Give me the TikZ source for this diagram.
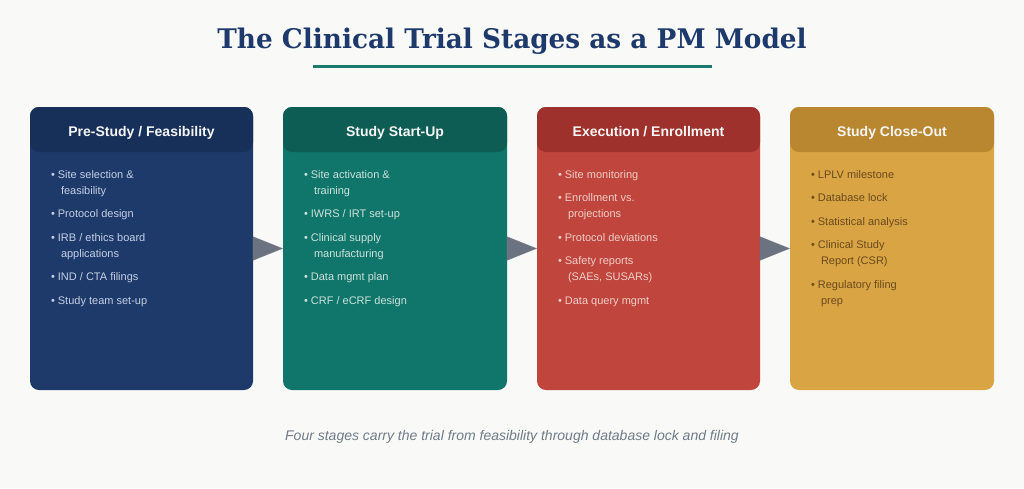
\documentclass[tikz,border=0pt]{standalone}
\usepackage{fontspec}
\setmainfont{Liberation Sans}
\newfontfamily\titlefont[FakeStretch=0.975]{DejaVu Serif}
\usetikzlibrary{arrows.meta,positioning,calc}
\definecolor{pagebg}{HTML}{F9F9F8}
\definecolor{titleblue}{HTML}{1E3A6C}
\definecolor{ruleteal}{HTML}{1A7A6E}
\definecolor{arrowgray}{HTML}{6B7280}
\definecolor{capgray}{HTML}{6E7C88}
\definecolor{navybody}{HTML}{1D3A6B}
\definecolor{navyhead}{HTML}{16305A}
\definecolor{navytext}{HTML}{C6D0E3}
\definecolor{tealbody}{HTML}{10756A}
\definecolor{tealhead}{HTML}{0D5D54}
\definecolor{tealtext}{HTML}{CCE2DD}
\definecolor{redbody}{HTML}{BF453D}
\definecolor{redhead}{HTML}{9F312C}
\definecolor{redtext}{HTML}{F1CEC6}
\definecolor{goldbody}{HTML}{D9A443}
\definecolor{goldhead}{HTML}{B8872F}
\definecolor{goldtext}{HTML}{6B4A1E}
\newcommand{\itm}{\textbullet\ }
\newcommand{\hang}{\hspace*{10pt}}

\begin{document}
\begin{tikzpicture}[x=1pt,y=-1pt,
  stage/.style={rectangle,rounded corners=9pt,minimum height=283pt,inner sep=0pt},
  head/.style={rectangle,rounded corners=9pt,minimum height=45pt,inner sep=0pt,text height=13pt,text depth=0pt,
    font=\fontsize{14}{16}\selectfont\bfseries,text=white!96!black},
  items/.style={anchor=north west,align=left,inner sep=0pt,font=\fontsize{11}{16}\selectfont},
  flow/.style={-{Triangle[length=30pt,width=24pt]},draw=arrowgray,fill=arrowgray,line width=0.2pt},
]
  \fill[pagebg] (0,0) rectangle (1024,488);

  % title
  \node[anchor=base,text=titleblue,font=\titlefont\fontsize{27}{30}\selectfont\bfseries] (title) at (512,48)
    {The Clinical Trial Stages as a PM Model};
  \draw[ruleteal,line width=3pt] (313,66) -- (712,66);

  % stage boxes
  \node[stage,fill=navybody,minimum width=223pt] (s1) at (141.5,248.5) {};
  \node[stage,fill=tealbody,minimum width=224pt] (s2) at (395,248.5) {};
  \node[stage,fill=redbody,minimum width=223pt] (s3) at (648.5,248.5) {};
  \node[stage,fill=goldbody,minimum width=204pt] (s4) at (892,248.5) {};

  % headers
  \node[head,fill=navyhead,minimum width=223pt,anchor=north] (h1) at (s1.north) {Pre-Study / Feasibility};
  \node[head,fill=tealhead,minimum width=224pt,anchor=north] (h2) at (s2.north) {Study Start-Up};
  \node[head,fill=redhead,minimum width=223pt,anchor=north] (h3) at (s3.north) {Execution / Enrollment};
  \node[head,fill=goldhead,minimum width=204pt,anchor=north] (h4) at (s4.north) {Study Close-Out};

  % task lists
  \node[items,text=navytext] (l1) at ($(s1.north west)+(21,63.5)$)
    {\itm Site selection \&\\ \hang feasibility\\[7.5pt]
     \itm Protocol design\\[7.5pt]
     \itm IRB / ethics board\\ \hang applications\\[7.5pt]
     \itm IND / CTA filings\\[7.5pt]
     \itm Study team set-up};
  \node[items,text=tealtext] (l2) at ($(s2.north west)+(21,63.5)$)
    {\itm Site activation \&\\ \hang training\\[7.5pt]
     \itm IWRS / IRT set-up\\[7.5pt]
     \itm Clinical supply\\ \hang manufacturing\\[7.5pt]
     \itm Data mgmt plan\\[7.5pt]
     \itm CRF / eCRF design};
  \node[items,text=redtext] (l3) at ($(s3.north west)+(21,63.5)$)
    {\itm Site monitoring\\[7.5pt]
     \itm Enrollment vs.\\ \hang projections\\[7.5pt]
     \itm Protocol deviations\\[7.5pt]
     \itm Safety reports\\ \hang (SAEs, SUSARs)\\[7.5pt]
     \itm Data query mgmt};
  \node[items,text=goldtext] (l4) at ($(s4.north west)+(21,63.5)$)
    {\itm LPLV milestone\\[7.5pt]
     \itm Database lock\\[7.5pt]
     \itm Statistical analysis\\[7.5pt]
     \itm Clinical Study\\ \hang Report (CSR)\\[7.5pt]
     \itm Regulatory filing\\ \hang prep};

  % flow between stages
  \foreach \a/\b in {s1/s2,s2/s3,s3/s4}
    \draw[flow] (\a.east) -- (\b.west);

  \node[anchor=base,text=capgray,font=\fontsize{14}{16}\selectfont\itshape] (caption) at (512,440)
    {Four stages carry the trial from feasibility through database lock and filing};
\end{tikzpicture}
\end{document}
